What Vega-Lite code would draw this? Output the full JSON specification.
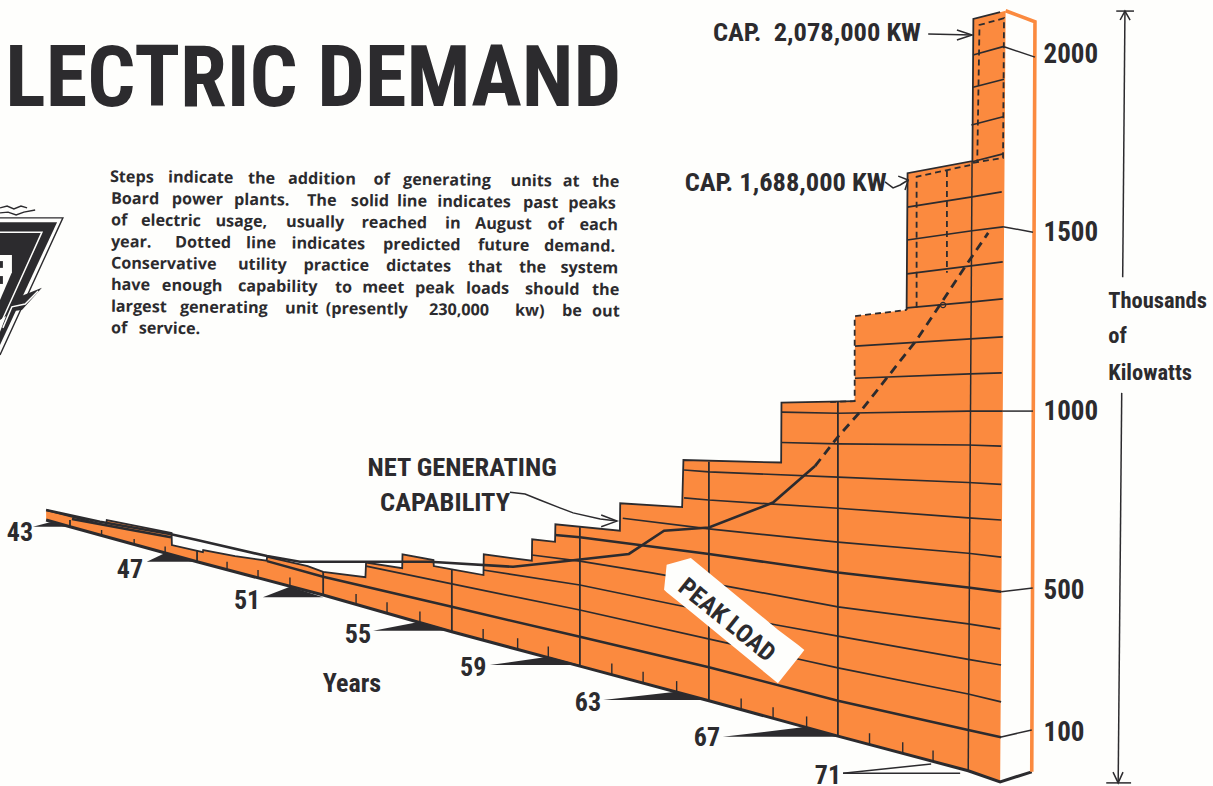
{
"$schema":"https://vega.github.io/schema/vega-lite/v6.json",
"width":1213,"height":786,"padding":0,"autosize":"none","background":"#fefefc",
"config":{"view":{"stroke":null},"text":{"font":"Roboto Condensed, DejaVu Sans Condensed, Roboto","fontWeight":"bold","color":"#2c2b2e"}},
"datasets":{
"capability":[
{"seq":1,"year":1942.41,"level":724,"floor":696},{"seq":2,"year":1944.08,"level":685,"floor":653},{"seq":3,"year":1944.27,"level":682,"floor":648},{"seq":4,"year":1944.29,"level":696,"floor":648},{"seq":5,"year":1946.30,"level":660,"floor":599},{"seq":6,"year":1946.31,"level":626,"floor":599},{"seq":7,"year":1947.27,"level":606,"floor":575},{"seq":8,"year":1947.28,"level":612,"floor":575},{"seq":9,"year":1948.27,"level":595,"floor":551},{"seq":10,"year":1949.25,"level":582,"floor":528},{"seq":11,"year":1949.26,"level":593,"floor":528},{"seq":12,"year":1950.52,"level":567,"floor":497},{"seq":13,"year":1951.00,"level":551,"floor":486},{"seq":14,"year":1952.31,"level":536,"floor":452},{"seq":15,"year":1952.33,"level":577,"floor":452},{"seq":16,"year":1953.45,"level":561,"floor":423},{"seq":17,"year":1953.46,"level":600,"floor":423},{"seq":18,"year":1954.42,"level":584,"floor":398},{"seq":19,"year":1954.43,"level":567,"floor":398},{"seq":20,"year":1954.99,"level":558,"floor":383},{"seq":21,"year":1955.97,"level":542,"floor":360},{"seq":22,"year":1955.98,"level":600,"floor":360},{"seq":23,"year":1957.47,"level":582,"floor":324},{"seq":24,"year":1957.48,"level":642,"floor":324},{"seq":25,"year":1958.19,"level":635,"floor":306},{"seq":26,"year":1958.20,"level":684,"floor":306},{"seq":27,"year":1960.20,"level":666,"floor":257},{"seq":28,"year":1960.21,"level":743,"floor":257},{"seq":29,"year":1962.13,"level":732,"floor":211},{"seq":30,"year":1962.17,"level":864,"floor":209},{"seq":31,"year":1965.20,"level":857,"floor":135},{"seq":32,"year":1965.21,"level":1025,"floor":135},{"seq":33,"year":1967.48,"level":1029,"floor":79},{"seq":34,"year":1967.49,"level":1267,"floor":79},{"seq":35,"year":1969.09,"level":1284,"floor":40},{"seq":36,"year":1969.12,"level":1667,"floor":39},{"seq":37,"year":1971.13,"level":1701,"floor":-10},{"seq":38,"year":1971.16,"level":2099,"floor":-10},{"seq":39,"year":1971.99,"level":2118,"floor":-37},{"seq":40,"year":1972.16,"level":2122,"floor":2122}],
"base":[
{"year":1942.41,"level":696},{"year":1943.15,"level":677},{"year":1947.09,"level":579},{"year":1951.0,"level":486},{"year":1954.99,"level":383},{"year":1958.96,"level":287},{"year":1962.96,"level":190},{"year":1966.96,"level":91},{"year":1971.0,"level":-6},{"year":1971.99,"level":-37},{"year":1972.97,"level":-9}],
"heavyGrid":[
{"line":"100a","year":1943.21,"level":699},{"line":"100a","year":1946.28,"level":648},
{"line":"100","year":1949.26,"level":581},{"line":"100","year":1951.0,"level":537},{"line":"100","year":1954.99,"level":453},{"line":"100","year":1958.96,"level":369},{"line":"100","year":1962.96,"level":284},{"line":"100","year":1966.96,"level":190},{"line":"100","year":1971.0,"level":108},{"line":"100","year":1972.02,"level":88},
{"line":"500","year":1958.19,"level":654},{"line":"500","year":1958.96,"level":648},{"line":"500","year":1962.96,"level":601},{"line":"500","year":1966.96,"level":549},{"line":"500","year":1971.0,"level":507},{"line":"500","year":1972.02,"level":495}],
"grid":[
{"line":200,"year":1952.33,"level":567},{"line":200,"year":1954.99,"level":517},{"line":200,"year":1958.96,"level":444},{"line":200,"year":1963.36,"level":355},{"line":200,"year":1965.72,"level":307},{"line":200,"year":1966.96,"level":282},{"line":200,"year":1971.0,"level":209},{"line":200,"year":1972.02,"level":187},
{"line":300,"year":1955.96,"level":556},{"line":300,"year":1958.96,"level":514},{"line":300,"year":1961.96,"level":458},{"line":300,"year":1965.06,"level":402},{"line":300,"year":1966.96,"level":371},{"line":300,"year":1971.0,"level":306},{"line":300,"year":1972.02,"level":290},
{"line":400,"year":1957.47,"level":598},{"line":400,"year":1958.96,"level":581},{"line":400,"year":1961.19,"level":548},{"line":400,"year":1963.62,"level":509},{"line":400,"year":1966.96,"level":453},{"line":400,"year":1971.0,"level":405},{"line":400,"year":1971.99,"level":391},
{"line":600,"year":1960.29,"level":701},{"line":600,"year":1962.96,"level":671},{"line":600,"year":1966.96,"level":634},{"line":600,"year":1971.0,"level":603},{"line":600,"year":1972.02,"level":592},
{"line":700,"year":1962.19,"level":758},{"line":700,"year":1962.96,"level":752},{"line":700,"year":1966.96,"level":729},{"line":700,"year":1971.0,"level":702},{"line":700,"year":1972.02,"level":696},
{"line":800,"year":1962.19,"level":836},{"line":800,"year":1962.96,"level":831},{"line":800,"year":1966.96,"level":816},{"line":800,"year":1971.0,"level":801},{"line":800,"year":1972.02,"level":796},
{"line":900,"year":1965.22,"level":913},{"line":900,"year":1966.96,"level":909},{"line":900,"year":1971.0,"level":906},{"line":900,"year":1972.02,"level":903},
{"line":1000,"year":1965.22,"level":998},{"line":1000,"year":1966.96,"level":995},{"line":1000,"year":1971.0,"level":1001},{"line":1000,"year":1972.05,"level":1001},
{"line":1100,"year":1967.49,"level":1093},{"line":1100,"year":1971.06,"level":1105},{"line":1100,"year":1972.04,"level":1108},
{"line":1200,"year":1967.49,"level":1183},{"line":1200,"year":1972.07,"level":1209},
{"line":1300,"year":1969.10,"level":1290},{"line":1300,"year":1971.06,"level":1306},{"line":1300,"year":1972.07,"level":1315},
{"line":1400,"year":1969.10,"level":1385},{"line":1400,"year":1972.07,"level":1419},
{"line":1500,"year":1969.11,"level":1480},{"line":1500,"year":1971.12,"level":1506},{"line":1500,"year":1972.08,"level":1517},
{"line":1600,"year":1969.11,"level":1572},{"line":1600,"year":1971.12,"level":1601},{"line":1600,"year":1972.04,"level":1615},
{"line":1700,"year":1971.12,"level":1699},{"line":1700,"year":1972.08,"level":1721},
{"line":1800,"year":1971.10,"level":1802},{"line":1800,"year":1972.08,"level":1825},
{"line":1900,"year":1971.12,"level":1907},{"line":1900,"year":1972.11,"level":1930},
{"line":2000,"year":1971.15,"level":1998},{"line":2000,"year":1972.11,"level":2022}],
"yearMarks":[
{"year":1943.15,"level":696,"floor":677},{"year":1947.09,"level":612,"floor":579},{"year":1951.0,"level":551,"floor":486},{"year":1954.99,"level":558,"floor":383},{"year":1958.96,"level":676,"floor":287},{"year":1962.96,"level":859,"floor":190},{"year":1966.96,"level":1027,"floor":91}],
"minorYears":[
{"year":1944.13,"level":668,"floor":652},{"year":1945.14,"level":643,"floor":627},{"year":1946.10,"level":622,"floor":604},{"year":1948.02,"level":579,"floor":557},{"year":1948.98,"level":556,"floor":532},{"year":1949.97,"level":535,"floor":509},{"year":1952.02,"level":489,"floor":460},{"year":1952.98,"level":466,"floor":435},{"year":1954.0,"level":440,"floor":409},{"year":1955.96,"level":391,"floor":360},{"year":1957.03,"level":365,"floor":334},{"year":1957.98,"level":342,"floor":311},{"year":1959.95,"level":294,"floor":263},{"year":1960.92,"level":271,"floor":240},{"year":1961.96,"level":245,"floor":214},{"year":1963.96,"level":196,"floor":165},{"year":1964.95,"level":172,"floor":141},{"year":1965.99,"level":146,"floor":115},{"year":1967.94,"level":99,"floor":68},{"year":1968.97,"level":74,"floor":43},{"year":1969.91,"level":51,"floor":20}],
"peakPast":[
{"year":1942.41,"level":724},{"year":1944.08,"level":691},{"year":1946.25,"level":657},{"year":1947.09,"level":640},{"year":1949.26,"level":595},{"year":1950.28,"level":579},{"year":1954.31,"level":579},{"year":1956.89,"level":565},{"year":1958.34,"level":579},{"year":1960.48,"level":601},{"year":1961.57,"level":666},{"year":1962.96,"level":675},{"year":1964.95,"level":745},{"year":1966.25,"level":847}],
"peakFuture":[
{"year":1966.25,"level":847},{"year":1966.96,"level":929},{"year":1967.65,"level":999},{"year":1968.47,"level":1093},{"year":1969.40,"level":1200},{"year":1970.02,"level":1284},{"year":1970.90,"level":1405},{"year":1971.62,"level":1500}],
"peakMarker":[{"year":1970.22,"level":1298}],
"plannedSteps":[
{"path":"a","seq":1,"year":1971.15,"level":1696},{"path":"a","seq":2,"year":1972.08,"level":1710},{"path":"a","seq":3,"year":1972.11,"level":2101},{"path":"a","seq":4,"year":1971.35,"level":2082},{"path":"a","seq":5,"year":1971.28,"level":1696},
{"path":"b","seq":1,"year":1969.40,"level":1290},{"path":"b","seq":2,"year":1969.40,"level":1657},{"path":"b","seq":3,"year":1971.06,"level":1690},
{"path":"c","seq":1,"year":1970.34,"level":1673},{"path":"c","seq":2,"year":1970.34,"level":1388},
{"path":"d","seq":1,"year":1966.72,"level":1026},{"path":"d","seq":2,"year":1967.48,"level":1029},{"path":"d","seq":3,"year":1967.48,"level":1267},{"path":"d","seq":4,"year":1969.09,"level":1284}],
"thinPaths":[
{"path":"upright","seq":1,"year":1971.12,"level":1701},{"path":"upright","seq":2,"year":1971.0,"level":-6},
{"path":"t2000","seq":1,"year":1972.11,"level":2021},{"path":"t2000","seq":2,"year":1973.07,"level":1992},
{"path":"t1500","seq":1,"year":1972.08,"level":1517},{"path":"t1500","seq":2,"year":1973.01,"level":1502},
{"path":"t1000","seq":1,"year":1972.05,"level":1001},{"path":"t1000","seq":2,"year":1973.01,"level":1001},
{"path":"t500","seq":1,"year":1972.02,"level":495},{"path":"t500","seq":2,"year":1973.0,"level":506},
{"path":"t100","seq":1,"year":1971.99,"level":88},{"path":"t100","seq":2,"year":1972.97,"level":108},
{"path":"cap2","seq":1,"year":1969.76,"level":2057},{"path":"cap2","seq":2,"year":1971.12,"level":2054},
{"path":"cap2h","seq":1,"year":1970.65,"level":2068},{"path":"cap2h","seq":2,"year":1971.12,"level":2054},{"path":"cap2h","seq":3,"year":1970.65,"level":2040},
{"path":"cap1","seq":1,"year":1968.42,"level":1643},{"path":"cap1","seq":2,"year":1968.67,"level":1626},{"path":"cap1","seq":3,"year":1968.89,"level":1634},{"path":"cap1","seq":4,"year":1969.14,"level":1648},
{"path":"cap1h","seq":1,"year":1968.83,"level":1659},{"path":"cap1h","seq":2,"year":1969.14,"level":1648},{"path":"cap1h","seq":3,"year":1969.04,"level":1620},
{"path":"net","seq":1,"year":1956.79,"level":774},{"path":"net","seq":2,"year":1957.26,"level":769},{"path":"net","seq":3,"year":1957.72,"level":752},{"path":"net","seq":4,"year":1958.34,"level":730},{"path":"net","seq":5,"year":1958.75,"level":716},{"path":"net","seq":6,"year":1959.59,"level":699},{"path":"net","seq":7,"year":1960.11,"level":693},
{"path":"neth","seq":1,"year":1959.62,"level":710},{"path":"neth","seq":2,"year":1960.11,"level":693},{"path":"neth","seq":3,"year":1959.62,"level":677},
{"path":"dimTop","seq":1,"year":1975.86,"level":2121},{"path":"dimTop","seq":2,"year":1975.79,"level":1376},
{"path":"dimBottom","seq":1,"year":1975.76,"level":1052},{"path":"dimBottom","seq":2,"year":1975.65,"level":-40},
{"path":"barTop","seq":1,"year":1975.59,"level":2121},{"path":"barTop","seq":2,"year":1976.14,"level":2121},
{"path":"barBottom","seq":1,"year":1975.28,"level":-40},{"path":"barBottom","seq":2,"year":1976.05,"level":-40},
{"path":"headTop","seq":1,"year":1975.71,"level":2096},{"path":"headTop","seq":2,"year":1975.86,"level":2121},{"path":"headTop","seq":3,"year":1976.02,"level":2096},
{"path":"headBottom","seq":1,"year":1975.49,"level":-10},{"path":"headBottom","seq":2,"year":1975.65,"level":-40},{"path":"headBottom","seq":3,"year":1975.80,"level":-10},
{"path":"y71a","seq":1,"year":1967.12,"level":-13},{"path":"y71a","seq":2,"year":1969.85,"level":13},
{"path":"y71b","seq":1,"year":1967.12,"level":-13},{"path":"y71b","seq":2,"year":1970.75,"level":-13}],
"sideEdge":[{"seq":1,"year":1972.16,"level":2122},{"seq":2,"year":1973.07,"level":2091},{"seq":3,"year":1972.97,"level":-9}],
"wedges":[
{"tag":"43","year":1942.0,"level":677,"floor":677},{"tag":"43","year":1942.53,"level":690,"floor":677},{"tag":"43","year":1943.21,"level":677,"floor":677},
{"tag":"47","year":1945.53,"level":579,"floor":579},{"tag":"47","year":1946.10,"level":604,"floor":579},{"tag":"47","year":1947.09,"level":579,"floor":579},
{"tag":"51","year":1949.13,"level":480,"floor":480},{"tag":"51","year":1949.97,"level":509,"floor":480},{"tag":"51","year":1951.0,"level":480,"floor":480},
{"tag":"55","year":1952.55,"level":386,"floor":386},{"tag":"55","year":1954.0,"level":411,"floor":386},{"tag":"55","year":1954.99,"level":386,"floor":386},
{"tag":"59","year":1956.17,"level":290,"floor":290},{"tag":"59","year":1957.98,"level":313,"floor":290},{"tag":"59","year":1958.96,"level":290,"floor":290},
{"tag":"63","year":1959.68,"level":192,"floor":192},{"tag":"63","year":1961.94,"level":215,"floor":192},{"tag":"63","year":1962.96,"level":192,"floor":192},
{"tag":"67","year":1963.39,"level":89,"floor":89},{"tag":"67","year":1965.99,"level":117,"floor":89},{"tag":"67","year":1966.96,"level":89,"floor":89}],
"peakTag":[
{"year":1961.57,"level":501,"floor":501},{"year":1961.65,"level":571,"floor":494},{"year":1962.40,"level":590,"floor":439},{"year":1965.10,"level":389,"floor":239},{"year":1965.72,"level":347,"floor":309},{"year":1965.92,"level":332,"floor":332}],
"emblemDark":[
{"part":"shield","year":1940.98,"level":1530,"floor":1186},{"part":"shield","year":1942.75,"level":1530,"floor":1530},
{"part":"bolt","year":1941.41,"level":1304,"floor":1281},{"part":"bolt","year":1941.66,"level":1324,"floor":1284},{"part":"bolt","year":1942.28,"level":1346,"floor":1346}],
"emblemLight":[
{"part":"panel","year":1940.98,"level":1438,"floor":1312},{"part":"panel","year":1941.35,"level":1438,"floor":1390},
{"part":"foot","year":1940.98,"level":1256,"floor":1223},{"part":"foot","year":1941.17,"level":1267,"floor":1267}],
"emblemMarks":[
{"part":"m1","year":1940.98,"level":1421,"floor":1402},{"part":"m1","year":1941.07,"level":1421,"floor":1402},
{"part":"m2","year":1940.98,"level":1379,"floor":1357},{"part":"m2","year":1941.07,"level":1379,"floor":1357}],
"emblemOutline":[
{"path":"rim","seq":1,"year":1940.98,"level":1542},{"path":"rim","seq":2,"year":1942.93,"level":1542},{"path":"rim","seq":3,"year":1940.98,"level":1158},
{"path":"w1","seq":1,"year":1940.98,"level":1570},{"path":"w1","seq":2,"year":1941.20,"level":1575},{"path":"w1","seq":3,"year":1941.41,"level":1567},{"path":"w1","seq":4,"year":1941.63,"level":1575},{"path":"w1","seq":5,"year":1941.82,"level":1570},
{"path":"w2","seq":1,"year":1940.98,"level":1556},{"path":"w2","seq":2,"year":1941.23,"level":1558},{"path":"w2","seq":3,"year":1941.48,"level":1550},{"path":"w2","seq":4,"year":1941.72,"level":1558},{"path":"w2","seq":5,"year":1942.07,"level":1564}],
"emblemInner":[
{"path":"tri","seq":1,"year":1940.98,"level":1502},{"path":"tri","seq":2,"year":1942.28,"level":1502},{"path":"tri","seq":3,"year":1940.98,"level":1242},
{"path":"flash","seq":1,"year":1942.16,"level":1337},{"path":"flash","seq":2,"year":1941.76,"level":1301},{"path":"flash","seq":3,"year":1941.35,"level":1293},{"path":"flash","seq":4,"year":1941.07,"level":1234}],
"note":[
{"w":"Steps","year":1944.39,"level":1659},{"w":"indicate","year":1946.19,"level":1658},{"w":"the","year":1948.67,"level":1655},{"w":"addition","year":1949.91,"level":1654},{"w":"of","year":1952.56,"level":1652},{"w":"generating","year":1953.48,"level":1651},{"w":"units","year":1956.81,"level":1648},{"w":"at","year":1958.43,"level":1647},{"w":"the","year":1959.34,"level":1646},
{"w":"Board","year":1944.42,"level":1598},{"w":"power","year":1946.31,"level":1597},{"w":"plants.","year":1948.24,"level":1595},{"w":"The","year":1950.50,"level":1593},{"w":"solid","year":1951.86,"level":1592},{"w":"line","year":1953.29,"level":1591},{"w":"indicates","year":1954.54,"level":1590},{"w":"past","year":1957.20,"level":1587},{"w":"peaks","year":1958.60,"level":1586},
{"w":"of","year":1944.42,"level":1538},{"w":"electric","year":1945.35,"level":1537},{"w":"usage,","year":1947.66,"level":1535},{"w":"usually","year":1949.85,"level":1533},{"w":"reached","year":1952.19,"level":1531},{"w":"in","year":1954.78,"level":1529},{"w":"August","year":1955.71,"level":1528},{"w":"of","year":1957.96,"level":1526},{"w":"each","year":1958.95,"level":1525},
{"w":"year.","year":1944.42,"level":1477},{"w":"Dotted","year":1946.41,"level":1476},{"w":"line","year":1948.61,"level":1474},{"w":"indicates","year":1950.02,"level":1473},{"w":"predicted","year":1952.86,"level":1470},{"w":"future","year":1955.80,"level":1468},{"w":"demand.","year":1957.85,"level":1466},
{"w":"Conservative","year":1944.42,"level":1417},{"w":"utility","year":1948.36,"level":1414},{"w":"practice","year":1950.39,"level":1412},{"w":"dictates","year":1952.95,"level":1410},{"w":"that","year":1955.49,"level":1407},{"w":"the","year":1957.07,"level":1406},{"w":"system","year":1958.36,"level":1405},
{"w":"have","year":1944.42,"level":1357},{"w":"enough","year":1946.0,"level":1355},{"w":"capability","year":1948.36,"level":1353},{"w":"to","year":1951.37,"level":1350},{"w":"meet","year":1952.21,"level":1350},{"w":"peak","year":1953.85,"level":1348},{"w":"loads","year":1955.43,"level":1347},{"w":"should","year":1957.26,"level":1345},{"w":"the","year":1959.34,"level":1343},
{"w":"largest","year":1944.42,"level":1296},{"w":"generating","year":1946.56,"level":1294},{"w":"unit","year":1949.82,"level":1291},{"w":"(presently","year":1951.08,"level":1290},{"w":"230,000","year":1954.28,"level":1287},{"w":"kw)","year":1956.95,"level":1285},{"w":"be","year":1958.41,"level":1284},{"w":"out","year":1959.34,"level":1283},
{"w":"of","year":1944.42,"level":1236},{"w":"service.","year":1945.28,"level":1235}],
"yearLabels":[
{"w":"43","year":1941.60,"level":660},{"w":"47","year":1945.01,"level":557},{"w":"51","year":1948.64,"level":469},{"w":"55","year":1952.08,"level":374},{"w":"59","year":1955.65,"level":282},{"w":"63","year":1959.21,"level":184},{"w":"67","year":1962.90,"level":86},{"w":"71","year":1966.65,"level":-20},{"w":"Years","year":1951.89,"level":237}],
"callouts":[
{"w":"NET GENERATING","year":1955.31,"level":842},{"w":"CAPABILITY","year":1954.78,"level":744},{"w":"CAP.\u00a0 2,078,000 KW","year":1966.31,"level":2060},{"w":"CAP. 1,688,000 KW","year":1965.34,"level":1640}],
"unitLabels":[
{"w":"Thousands","year":1975.34,"level":1309},{"w":"of","year":1975.34,"level":1211},{"w":"Kilowatts","year":1975.34,"level":1108}]
},
"encoding":{
"x":{"field":"year","type":"quantitative","axis":null,"scale":{"domain":[1940.98,1978.59],"nice":false,"zero":false}},
"y":{"field":"level","type":"quantitative","scale":{"domain":[-48.7,2152],"nice":false,"zero":false},
"axis":{"orient":"right","offset":-170,"title":null,"grid":false,"domain":false,"ticks":false,"values":[100,500,1000,1500,2000],"format":"d","labelFont":"Roboto Condensed, DejaVu Sans Condensed, Roboto","labelFontWeight":"bold","labelFontSize":27,"labelColor":"#2c2b2e","labelPadding":0,"labelOverlap":false,"labelBound":false,"labelFlush":false}}
},
"layer":[
{"data":{"name":"emblemOutline"},"mark":{"type":"line","color":"#2c2b2e","strokeWidth":1.4},"encoding":{"detail":{"field":"path"},"order":{"field":"seq"}}},
{"data":{"name":"emblemDark"},"mark":{"type":"area","color":"#2c2b2e"},"encoding":{"y2":{"field":"floor"},"detail":{"field":"part"}}},
{"data":{"name":"emblemLight"},"mark":{"type":"area","color":"#fefefc"},"encoding":{"y2":{"field":"floor"},"detail":{"field":"part"}}},
{"data":{"name":"emblemMarks"},"mark":{"type":"area","color":"#2c2b2e"},"encoding":{"y2":{"field":"floor"},"detail":{"field":"part"}}},
{"data":{"name":"emblemInner"},"mark":{"type":"line","color":"#fefefc","strokeWidth":1.5},"encoding":{"detail":{"field":"path"},"order":{"field":"seq"}}},
{"data":{"name":"capability"},"mark":{"type":"area","color":"#fb8a3f"},"encoding":{"y2":{"field":"floor"}}},
{"data":{"name":"wedges"},"mark":{"type":"area","color":"#2c2b2e"},"encoding":{"y2":{"field":"floor"},"detail":{"field":"tag"}}},
{"data":{"name":"grid"},"mark":{"type":"line","color":"#2c2b2e","strokeWidth":1.7},"encoding":{"detail":{"field":"line"}}},
{"data":{"name":"heavyGrid"},"mark":{"type":"line","color":"#2c2b2e","strokeWidth":2.5},"encoding":{"detail":{"field":"line"}}},
{"data":{"name":"yearMarks"},"mark":{"type":"rule","color":"#2c2b2e","strokeWidth":1.8},"encoding":{"y2":{"field":"floor"}}},
{"data":{"name":"minorYears"},"mark":{"type":"rule","color":"#2c2b2e","strokeWidth":1.4},"encoding":{"y2":{"field":"floor"}}},
{"data":{"name":"capability"},"transform":[{"filter":"datum.seq<=33"}],"mark":{"type":"line","color":"#2c2b2e","strokeWidth":1.8},"encoding":{"order":{"field":"seq"}}},
{"data":{"name":"capability"},"transform":[{"filter":"datum.seq>=35 && datum.seq<=39"}],"mark":{"type":"line","color":"#2c2b2e","strokeWidth":1.8},"encoding":{"order":{"field":"seq"}}},
{"data":{"name":"plannedSteps"},"mark":{"type":"line","color":"#2c2b2e","strokeWidth":1.8,"strokeDash":[6,4]},"encoding":{"detail":{"field":"path"},"order":{"field":"seq"}}},
{"data":{"name":"base"},"mark":{"type":"line","color":"#2c2b2e","strokeWidth":3}},
{"data":{"name":"sideEdge"},"mark":{"type":"line","color":"#fb8a3f","strokeWidth":3.6},"encoding":{"order":{"field":"seq"}}},
{"data":{"name":"peakPast"},"mark":{"type":"line","color":"#2c2b2e","strokeWidth":2.6}},
{"data":{"name":"peakFuture"},"mark":{"type":"line","color":"#2c2b2e","strokeWidth":2.8,"strokeDash":[9,6]}},
{"data":{"name":"peakMarker"},"mark":{"type":"point","shape":"circle","size":28,"filled":false,"color":"#2c2b2e","strokeWidth":1.2,"opacity":1}},
{"data":{"name":"thinPaths"},"mark":{"type":"line","color":"#2c2b2e","strokeWidth":1.5},"encoding":{"detail":{"field":"path"},"order":{"field":"seq"}}},
{"data":{"name":"peakTag"},"mark":{"type":"area","color":"#fefefc"},"encoding":{"y2":{"field":"floor"}}},
{"data":{"values":[{"w":"PEAK LOAD","year":1963.52,"level":416}]},"mark":{"type":"text","fontSize":25,"angle":39,"align":"center","baseline":"middle"},"encoding":{"text":{"field":"w"}}},
{"data":{"values":[{"w":"LECTRIC DEMAND","year":1960.24,"level":1855}]},"mark":{"type":"text","fontSize":84.5,"align":"right","baseline":"alphabetic"},"encoding":{"text":{"field":"w"}}},
{"data":{"name":"note"},"mark":{"type":"text","font":"Open Sans","fontSize":16.2,"fontWeight":700,"align":"left","baseline":"middle","angle":0.56,"dy":1},"encoding":{"text":{"field":"w"}}},
{"data":{"name":"yearLabels"},"mark":{"type":"text","fontSize":26,"align":"center","baseline":"middle"},"encoding":{"text":{"field":"w"}}},
{"data":{"name":"callouts"},"mark":{"type":"text","fontSize":26.5,"align":"center","baseline":"middle"},"encoding":{"text":{"field":"w"}}},
{"data":{"name":"unitLabels"},"mark":{"type":"text","fontSize":22.5,"align":"left","baseline":"middle"},"encoding":{"text":{"field":"w"}}}
]
}
